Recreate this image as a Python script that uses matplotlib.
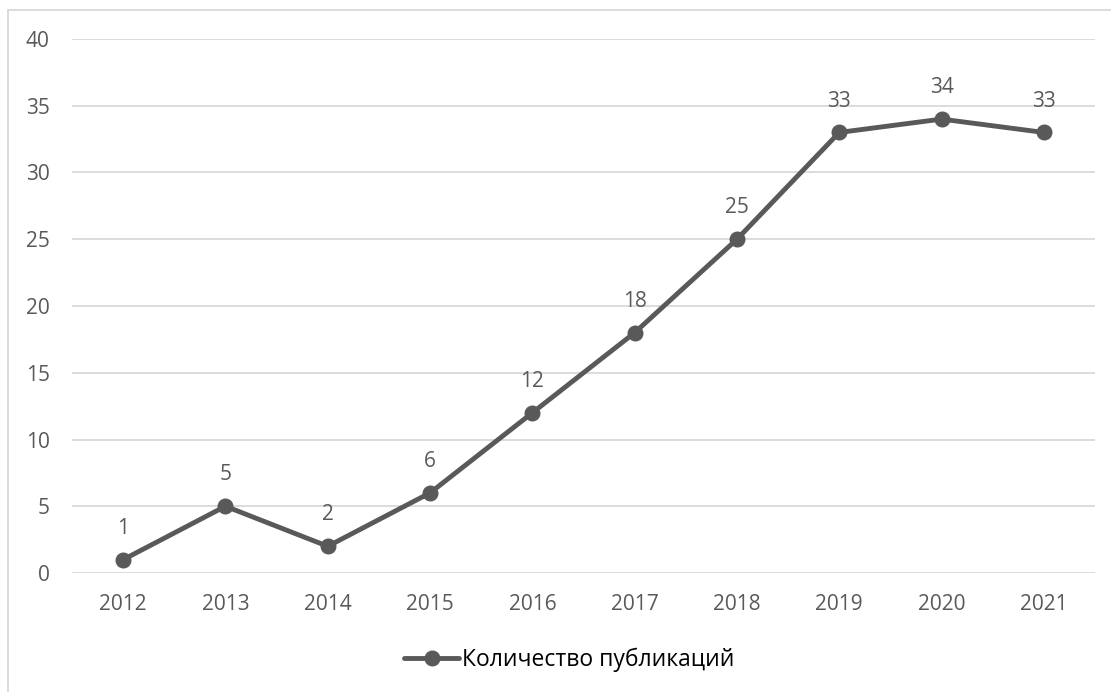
import matplotlib.pyplot as plt
from matplotlib.patches import Rectangle

years = ['2012', '2013', '2014', '2015', '2016', '2017', '2018', '2019', '2020', '2021']
counts = [1, 5, 2, 6, 12, 18, 25, 33, 34, 33]
series_name = 'Количество публикаций'

plt.rcParams['font.family'] = ['Open Sans', 'DejaVu Sans']
grey = '#595959'

fig = plt.figure(figsize=(11.11, 6.92), dpi=100)
ax = fig.add_axes([72 / 1111, 1 - 573 / 692, (1095 - 72) / 1111, (573 - 39) / 692])

x = list(range(len(years)))
ax.plot(x, counts, color=grey, lw=3.5, marker='o', ms=10.5,
        solid_capstyle='round', label=series_name)
for xi, v in zip(x, counts):
    ax.annotate(str(v), (xi, v), xytext=(0, 15), textcoords='offset points',
                ha='center', va='bottom', fontsize=15, color=grey)

ax.set_xlim(-0.5, len(years) - 0.5)
ax.set_ylim(0, 40)
ax.set_yticks(range(0, 41, 5))
ax.set_xticks(x)
ax.set_xticklabels(years)
ax.grid(axis='y', color='#d9d9d9', lw=1.3)
ax.set_axisbelow(True)
for s in ax.spines.values():
    s.set_visible(False)
ax.tick_params(length=0, labelsize=15, colors=grey)
ax.tick_params(axis='y', pad=16)
ax.tick_params(axis='x', pad=15)

leg = ax.legend(loc='center', bbox_to_anchor=(0.486, -0.163), frameon=False,
                fontsize=16.5, handlelength=2.4, handletextpad=0.1)
for t in leg.get_texts():
    t.set_color('black')

fig.patches.append(Rectangle((8 / 1111, -0.1), 1.2, 1 - 10 / 692 + 0.1,
                             transform=fig.transFigure, fill=False,
                             edgecolor='#d9d9d9', lw=1.3))

fig.savefig('out.png')
